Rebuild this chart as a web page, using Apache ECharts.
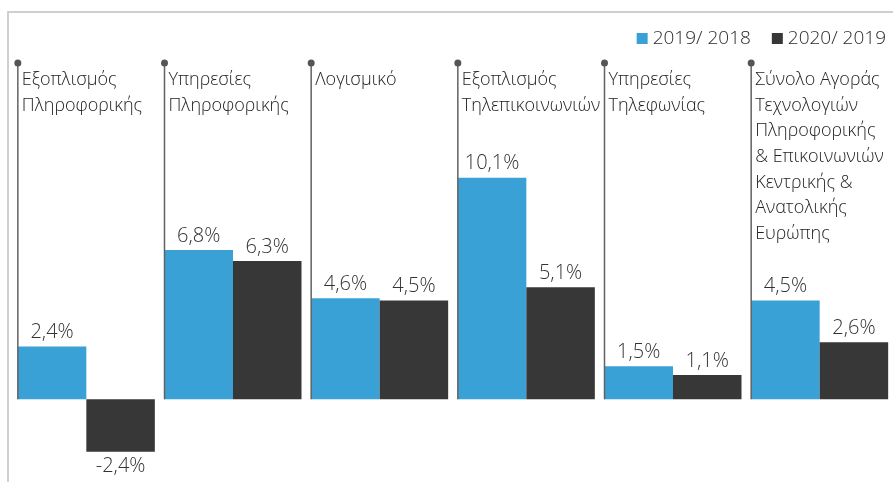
<!DOCTYPE html>
<html>
<head>
<meta charset="utf-8">
<script src="https://cdn.jsdelivr.net/npm/echarts@6/dist/echarts.min.js"></script>
<style>
  html, body { margin: 0; padding: 0; background: #fff; }
  #chart { width: 893px; height: 482px; }
</style>
</head>
<body>
<div id="chart"></div>
<script>
const categories = [
  'Εξοπλισμός\nΠληροφορικής',
  'Υπηρεσίες\nΠληροφορικής',
  'Λογισμικό',
  'Εξοπλισμός\nΤηλεπικοινωνιών',
  'Υπηρεσίες\nΤηλεφωνίας',
  'Σύνολο Αγοράς\nΤεχνολογιών\nΠληροφορικής\n& Επικοινωνιών\nΚεντρικής &\nΑνατολικής\nΕυρώπης'
];
const growth2019 = [2.4, 6.8, 4.6, 10.1, 1.5, 4.5];
const growth2020 = [-2.4, 6.3, 4.5, 5.1, 1.1, 2.6];
const seriesNames = ['2019/ 2018', '2020/ 2019'];

const FONT = '"Open Sans", "Noto Sans", sans-serif';
const BAR_W = 68.5;
const Y_MIN = -3;
const Y_MAX = 15.33;

const chart = echarts.init(document.getElementById('chart'));

const fmt = (p) => p.value.toFixed(1).replace('.', ',') + '%';

chart.setOption({
  animation: false,
  textStyle: { fontFamily: FONT },
  graphic: [
    {
      type: 'polyline',
      silent: true,
      shape: { points: [[8, 482], [8, 12], [893, 12]] },
      style: { stroke: '#cfcfcf', lineWidth: 2, fill: null }
    }
  ],
  legend: {
    right: 2,
    top: 24,
    itemWidth: 11,
    itemHeight: 11,
    itemGap: 21,
    icon: 'rect',
    textStyle: { fontSize: 19, color: '#2a2a2a', fontFamily: FONT, fontWeight: 300 },
    data: seriesNames
  },
  grid: { left: 13, right: 0, top: 63, bottom: 17 },
  xAxis: {
    type: 'category',
    data: categories,
    axisLine: { show: false },
    axisTick: { show: false },
    axisLabel: { show: false }
  },
  yAxis: {
    type: 'value',
    min: Y_MIN,
    max: Y_MAX,
    show: false,
    splitLine: { show: false }
  },
  series: [
    {
      name: seriesNames[0],
      type: 'bar',
      data: growth2019,
      barWidth: BAR_W,
      barGap: '0%',
      itemStyle: { color: '#3aa1d6' },
      label: {
        show: true,
        position: 'top',
        distance: 4,
        formatter: fmt,
        fontSize: 20,
        fontWeight: 300,
        color: '#333',
        fontFamily: FONT
      }
    },
    {
      name: seriesNames[1],
      type: 'bar',
      data: growth2020.map((v) => ({
        value: v,
        label: { position: v < 0 ? 'bottom' : 'top' }
      })),
      barWidth: BAR_W,
      barGap: '0%',
      itemStyle: { color: '#373737' },
      label: {
        show: true,
        distance: 4,
        formatter: fmt,
        fontSize: 20,
        fontWeight: 300,
        color: '#333',
        fontFamily: FONT
      }
    },
    {
      type: 'custom',
      silent: true,
      z: 5,
      data: categories.map((c, i) => i),
      renderItem: function (params, api) {
        const idx = api.value(0);
        const base = api.coord([idx, 0]);
        const top = api.coord([idx, Y_MAX]);
        const x = base[0] - BAR_W;
        return {
          type: 'group',
          children: [
            {
              type: 'line',
              shape: { x1: x, y1: top[1], x2: x, y2: base[1] },
              style: { stroke: '#626262', lineWidth: 1.5 }
            },
            {
              type: 'circle',
              shape: { cx: x, cy: top[1], r: 3.5 },
              style: { fill: '#555' }
            },
            {
              type: 'text',
              style: {
                text: categories[idx],
                x: x + 4,
                y: top[1] + 4,
                fill: '#222',
                font: '300 18px ' + FONT,
                lineHeight: 25.7,
                verticalAlign: 'top',
                align: 'left'
              }
            }
          ]
        };
      }
    }
  ]
});
</script>
</body>
</html>
